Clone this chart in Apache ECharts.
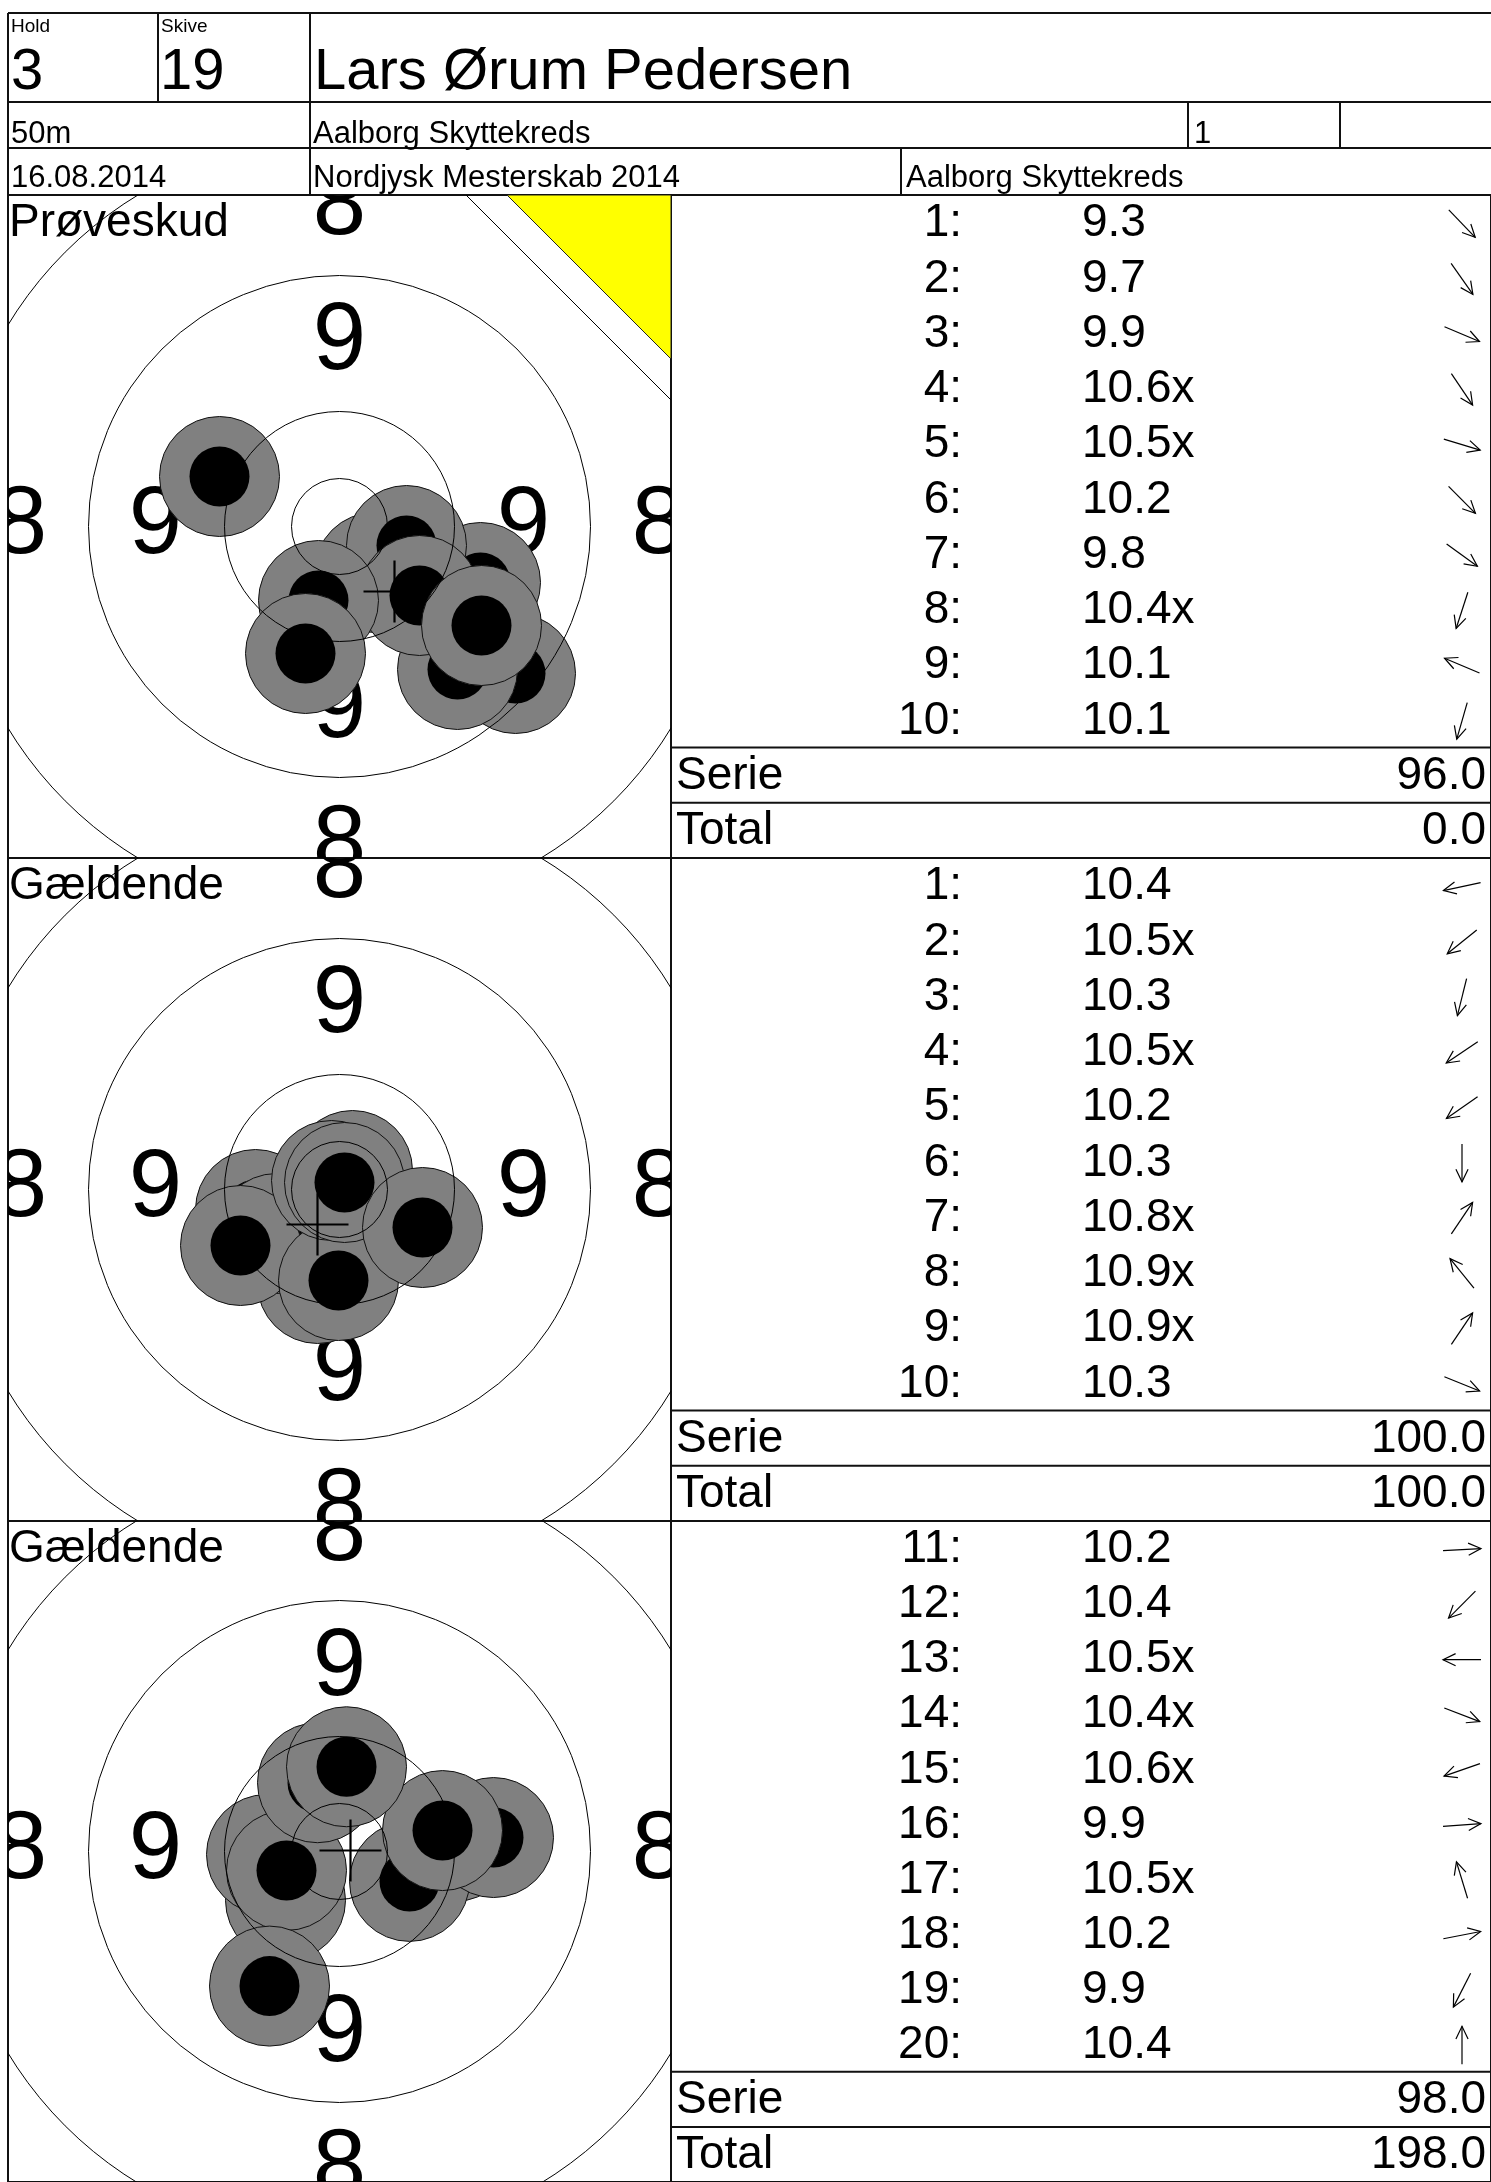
<!DOCTYPE html>
<html>
<head>
<meta charset="utf-8">
<title>Skydeskive</title>
<script src="https://cdn.jsdelivr.net/npm/echarts@6/dist/echarts.min.js"></script>
<style>
  html, body { margin: 0; padding: 0; background: #fff; }
  #main { width: 1491px; height: 2182px; }
</style>
</head>
<body>
<div id="main"></div>
<script>
var FONT = '"Liberation Sans", Arial, Helvetica, sans-serif';

// header data
var holdNo = '3';
var skiveNo = '19';
var shooter = 'Lars Ørum Pedersen';
var distance = '50m';
var club = 'Aalborg Skyttekreds';
var relay = '1';
var matchDate = '16.08.2014';
var matchName = 'Nordjysk Mesterskab 2014';
var organiser = 'Aalborg Skyttekreds';

// one entry per card section
var sectionTitles = ['Prøveskud', 'Gældende', 'Gældende'];
var shotNumbers = [
  [1, 2, 3, 4, 5, 6, 7, 8, 9, 10],
  [1, 2, 3, 4, 5, 6, 7, 8, 9, 10],
  [11, 12, 13, 14, 15, 16, 17, 18, 19, 20]
];
var scores = [
  ['9.3', '9.7', '9.9', '10.6x', '10.5x', '10.2', '9.8', '10.4x', '10.1', '10.1'],
  ['10.4', '10.5x', '10.3', '10.5x', '10.2', '10.3', '10.8x', '10.9x', '10.9x', '10.3'],
  ['10.2', '10.4', '10.5x', '10.4x', '10.6x', '9.9', '10.5x', '10.2', '9.9', '10.4']
];
// direction arrows, degrees clockwise from "right"
var arrowDeg = [
  [46, 55, 23, 56, 17, 45, 36, 108, 203, 106],
  [168, 141, 104, 146, 145, 90, 304, 231, 304, 22],
  [-3, 135, 180, 21, 161, -4, 253, -11, 117, 270]
];
// hit positions on the target (target units, centre = 0,0, up = +)
var hitX = [
  [176, 118, 141, 35, 67, 80, 142, -21, -120, -34],
  [-84, -59, -22, -63, -99, -1, 13, -8, 5, 83],
  [115, -54, -73, 70, -53, 154, -22, 103, -70, 7]
];
var hitY = [
  [-147, -143, -56, -46, -19, -69, -99, -74, 50, -127],
  [-20, -49, -94, -44, -56, -91, 19, 9, 7, -38],
  [10, -49, -3, -30, -19, 14, 69, 21, -135, 85]
];
var groupX = [55, -22, 11];
var groupY = [-65, -35, 1];
var serie = [96.0, 100.0, 98.0];
var total = [0.0, 100.0, 198.0];

// target geometry (target units)
var ringRadii = [48, 115, 251, 388];
var ringNumbers = ['9', '8'];
var ringNumberRadii = [184, 319];
var holeRadius = 60;
var coreRadius = 30;
var crossArm = 31;
var halfSpan = 331.5;

var sectionTop = [195, 858, 1521];
var PANEL = 663;
var TABLE_W = 820;

function txt(x, y, s, size, align) {
  return {
    type: 'text', x: x, y: y, z: 0,
    style: { text: s, fill: '#000', fontSize: size, fontFamily: FONT,
      align: align || 'left', textAlign: align || 'left',
      verticalAlign: 'middle', textVerticalAlign: 'middle' }
  };
}
function ln(x1, y1, x2, y2) {
  return { type: 'line', z: 0, shape: { x1: x1, y1: y1, x2: x2, y2: y2 },
    style: { stroke: '#111', lineWidth: 2 } };
}

var W = 1491;
var graphics = [
  ln(8, 13, W, 13), ln(8, 102, W, 102), ln(8, 148, W, 148),
  ln(8, 13, 8, 195), ln(158, 13, 158, 102), ln(310, 13, 310, 195),
  ln(1188, 102, 1188, 148), ln(1340, 102, 1340, 148), ln(901, 148, 901, 195),
  txt(11, 27, 'Hold', 19), txt(161, 27, 'Skive', 19),
  txt(11, 73, holdNo, 58), txt(160, 73, skiveNo, 58), txt(314, 73, shooter, 58),
  txt(11, 134, distance, 31), txt(313, 134, club, 31), txt(1194, 134, relay, 31),
  txt(11, 178, matchDate, 31), txt(313, 178, matchName, 31), txt(906, 178, organiser, 31)
];
sectionTitles.forEach(function (t, s) {
  graphics.push(txt(9, sectionTop[s] + PANEL / 24 + 1, t, 46));
});

function arrowEls(cx, cy, deg) {
  var a = deg * Math.PI / 180, L = 19, B = 14, S = 0.45;
  var ux = Math.cos(a), uy = Math.sin(a);
  var tx = cx + ux * L, ty = cy + uy * L;
  var b1 = [tx - B * Math.cos(a - S), ty - B * Math.sin(a - S)];
  var b2 = [tx - B * Math.cos(a + S), ty - B * Math.sin(a + S)];
  return [
    { type: 'line', shape: { x1: cx - ux * L, y1: cy - uy * L, x2: tx, y2: ty },
      style: { stroke: '#000', lineWidth: 1.2 } },
    { type: 'polyline', shape: { points: [b1, [tx, ty], b2] },
      style: { stroke: '#000', fill: null, lineWidth: 1.2 } }
  ];
}
function ctext(x, y, s, size, align) {
  return { type: 'text', x: x, y: y,
    style: { text: s, fill: '#000', fontSize: size, fontFamily: FONT,
      align: align, verticalAlign: 'middle' } };
}

var grids = [], xAxes = [], yAxes = [], series = [];

sectionTop.forEach(function (top, s) {
  var tg = grids.length;
  grids.push({ left: 8, top: top, width: PANEL, height: PANEL, show: true,
    borderColor: '#111', borderWidth: 2, backgroundColor: 'transparent' });
  xAxes.push({ gridIndex: tg, type: 'value', min: -halfSpan, max: halfSpan, show: false });
  yAxes.push({ gridIndex: tg, type: 'value', min: -halfSpan, max: halfSpan, show: false });

  var tb = grids.length;
  grids.push({ left: 8 + PANEL, top: top, width: TABLE_W, height: PANEL, show: true,
    borderColor: '#111', borderWidth: 2, backgroundColor: 'transparent' });
  var rowNames = shotNumbers[s].map(String).concat(['Serie', 'Total']);
  xAxes.push({ gridIndex: tb, type: 'value', min: 0, max: TABLE_W, show: false });
  yAxes.push({ gridIndex: tb, type: 'category', data: rowNames, inverse: true, show: false });

  // ring numbers (under the hits)
  var numData = [], numText = [];
  ringNumbers.forEach(function (n, k) {
    var r = ringNumberRadii[k];
    [[0, r], [r, 0], [0, -r], [-r, 0]].forEach(function (p) {
      numData.push(p); numText.push(n);
    });
  });
  series.push({
    type: 'custom', xAxisIndex: tg, yAxisIndex: tg, z: 2, clip: true, silent: true,
    data: numData,
    renderItem: function (params, api) {
      var p = api.coord([api.value(0), api.value(1)]);
      return ctext(p[0], p[1], numText[params.dataIndex], 96, 'center');
    }
  });

  // hits
  series.push({
    type: 'custom', xAxisIndex: tg, yAxisIndex: tg, z: 3, clip: true, silent: true,
    data: hitX[s].map(function (x, i) { return [x, hitY[s][i]]; }),
    renderItem: function (params, api) {
      var p = api.coord([api.value(0), api.value(1)]);
      var R = api.size([holeRadius, 0])[0];
      var r = api.size([coreRadius, 0])[0];
      return { type: 'group', children: [
        { type: 'circle', shape: { cx: p[0], cy: p[1], r: R },
          style: { fill: '#808080', stroke: '#111', lineWidth: 1 } },
        { type: 'circle', shape: { cx: p[0], cy: p[1], r: r },
          style: { fill: '#000' } }
      ] };
    }
  });

  // rings (drawn over the hits)
  series.push({
    type: 'custom', xAxisIndex: tg, yAxisIndex: tg, z: 4, clip: true, silent: true,
    data: ringRadii.map(function (r) { return [0, 0, r]; }),
    renderItem: function (params, api) {
      var c = api.coord([0, 0]);
      var r = api.size([api.value(2), 0])[0];
      return { type: 'circle', shape: { cx: c[0], cy: c[1], r: r },
        style: { fill: null, stroke: '#000', lineWidth: 1 } };
    }
  });

  // sighting-shot corner mark
  if (s === 0) {
    series.push({
      type: 'custom', xAxisIndex: tg, yAxisIndex: tg, z: 5, clip: true, silent: true,
      data: [[halfSpan, halfSpan]],
      renderItem: function (params, api) {
        var c = api.coord([api.value(0), api.value(1)]);
        var a = api.size([164, 0])[0];
        var b = api.size([205, 0])[0];
        return { type: 'group', children: [
          { type: 'polygon', shape: { points: [[c[0] - a, c[1]], [c[0], c[1]], [c[0], c[1] + a]] },
            style: { fill: '#ffff00', stroke: '#222', lineWidth: 1 } },
          { type: 'line', shape: { x1: c[0] - b, y1: c[1], x2: c[0], y2: c[1] + b },
            style: { stroke: '#000', lineWidth: 1 } }
        ] };
      }
    });
  }

  // group centre cross
  series.push({
    type: 'custom', xAxisIndex: tg, yAxisIndex: tg, z: 6, clip: true, silent: true,
    data: [[groupX[s], groupY[s]]],
    renderItem: function (params, api) {
      var p = api.coord([api.value(0), api.value(1)]);
      var d = api.size([crossArm, 0])[0];
      return { type: 'group', children: [
        { type: 'line', shape: { x1: p[0] - d, y1: p[1], x2: p[0] + d, y2: p[1] },
          style: { stroke: '#000', lineWidth: 2.2 } },
        { type: 'line', shape: { x1: p[0], y1: p[1] - d, x2: p[0], y2: p[1] + d },
          style: { stroke: '#000', lineWidth: 2.2 } }
      ] };
    }
  });

  // score list
  series.push({
    type: 'custom', xAxisIndex: tb, yAxisIndex: tb, z: 2, silent: true,
    data: rowNames.map(function (n, i) { return [0, i]; }),
    renderItem: function (params, api) {
      var i = params.dataIndex;
      var p = api.coord([0, i]);
      var h = api.size([0, 1])[1];
      var left = p[0], cy = p[1] + 1;
      var kids = [];
      if (i < 10) {
        kids.push(ctext(left + 291, cy, shotNumbers[s][i] + ':', 46, 'right'));
        kids.push(ctext(left + 411, cy, scores[s][i], 46, 'left'));
        kids = kids.concat(arrowEls(left + 791, cy, arrowDeg[s][i]));
      } else {
        var isSerie = i === 10;
        kids.push({ type: 'line', shape: { x1: left, y1: p[1] - h / 2, x2: left + TABLE_W, y2: p[1] - h / 2 },
          style: { stroke: '#111', lineWidth: 2 } });
        kids.push(ctext(left + 5, cy, isSerie ? 'Serie' : 'Total', 46, 'left'));
        kids.push(ctext(left + 815, cy, (isSerie ? serie[s] : total[s]).toFixed(1), 46, 'right'));
      }
      return { type: 'group', children: kids };
    }
  });
});

var chart = echarts.init(document.getElementById('main'));
chart.setOption({
  animation: false,
  backgroundColor: '#fff',
  grid: grids,
  xAxis: xAxes,
  yAxis: yAxes,
  graphic: graphics,
  series: series
});
</script>
</body>
</html>
